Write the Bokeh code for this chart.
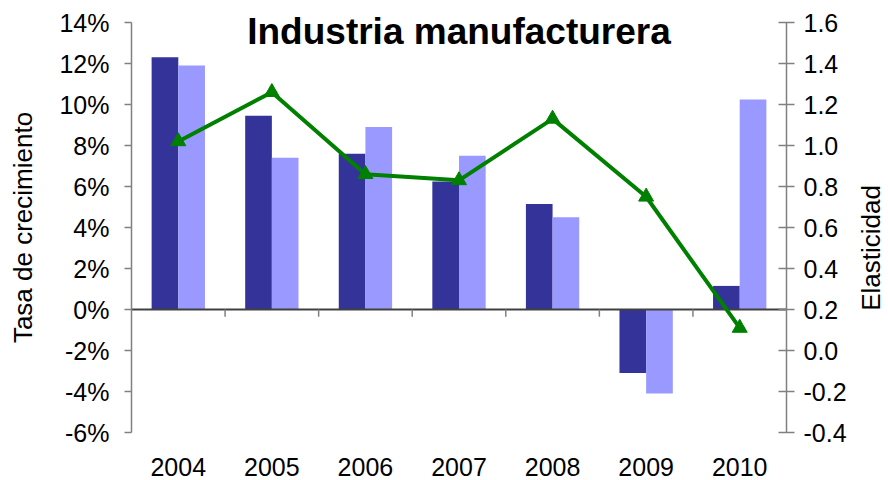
import math
from bokeh.plotting import figure
from bokeh.models import (Range1d, LinearAxis, FixedTicker, PrintfTickFormatter,
                          ColumnDataSource, Label)
from bokeh.embed import file_html
from bokeh.resources import INLINE

# ---- data ----
years = ["2004", "2005", "2006", "2007", "2008", "2009", "2010"]
growth_dark = [12.3, 9.45, 7.6, 6.25, 5.15, -3.1, 1.15]
growth_light = [11.9, 7.4, 8.9, 7.5, 4.5, -4.1, 10.25]
elasticity = [1.02, 1.26, 0.86, 0.83, 1.13, 0.75, 0.11]
left_ticks = [-6, -4, -2, 0, 2, 4, 6, 8, 10, 12, 14]
right_ticks = [-0.4, -0.2, 0.0, 0.2, 0.4, 0.6, 0.8, 1.0, 1.2, 1.4, 1.6]
title_text = "Industria manufacturera"
left_label = "Tasa de crecimiento"
right_label = "Elasticidad"

FONT = "Liberation Sans"
W, H = 888, 480
# plot-area box inside the figure (pixels)
PL, PR, PT, PB = 131, 786, 22, 432

n = len(years)
idx = list(range(n))
bw = 0.285

# ranges that put the plot area at the box above while the frame fills the figure
x0, x1 = -0.5, n - 0.5
xs = (PR - PL) / (x1 - x0)
ly0, ly1 = left_ticks[0], left_ticks[-1]
ls = (PB - PT) / (ly1 - ly0)
ry0, ry1 = right_ticks[0], right_ticks[-1]
rs = (PB - PT) / (ry1 - ry0)

src = ColumnDataSource(dict(
    x=idx,
    xa=[i - bw / 2 for i in idx],
    xb=[i + bw / 2 for i in idx],
    a=growth_dark,
    b=growth_light,
    e=elasticity,
))

p = figure(width=W, height=H,
           x_range=Range1d(x0 - PL / xs, x1 + (W - PR) / xs),
           y_range=Range1d(ly0 - (H - PB) / ls, ly1 + PT / ls),
           output_backend="svg", toolbar_location=None)
p.min_border = 0
p.outline_line_color = None
p.xgrid.visible = False
p.ygrid.visible = False
p.background_fill_color = "white"
p.border_fill_color = "white"
p.extra_y_ranges = {"elas": Range1d(ry0 - (H - PB) / rs, ry1 + PT / rs)}

# bars
p.vbar(x="xa", top="a", bottom=0, width=bw, source=src,
       fill_color="#333399", line_color=None)
p.vbar(x="xb", top="b", bottom=0, width=bw, source=src,
       fill_color="#9999FF", line_color=None)

# zero line and category separators
p.segment(x0=[x0], y0=[0], x1=[x1], y1=[0], line_color="#404040", line_width=2)
bounds = [i + 0.5 for i in range(n - 1)]
p.segment(x0=bounds, y0=[0] * len(bounds), x1=bounds, y1=[-0.35] * len(bounds),
          line_color="#808080", line_width=1.5)

# elasticity line
p.line(x="x", y="e", source=src, y_range_name="elas",
       line_color="#008000", line_width=4)
p.scatter(x="x", y="e", source=src, y_range_name="elas", marker="triangle",
          size=15, fill_color="#008000", line_color="#008000")

# bottom (category) axis
xax = p.xaxis[0]
xax.fixed_location = ly0
xax.bounds = (x0, x1)
xax.ticker = FixedTicker(ticks=idx)
xax.major_label_overrides = {i: y for i, y in zip(idx, years)}
xax.axis_line_color = None
xax.major_tick_line_color = None
xax.minor_tick_line_color = None
xax.major_tick_out = 0
xax.major_tick_in = 0
xax.major_label_standoff = 25
xax.major_label_text_font = FONT
xax.major_label_text_font_size = "25px"
xax.major_label_text_color = "black"

# left axis
ax = p.yaxis[0]
ax.fixed_location = x0
ax.bounds = (ly0, ly1)
ax.ticker = FixedTicker(ticks=left_ticks)
ax.formatter = PrintfTickFormatter(format="%d%%")
ax.major_tick_out = 7
ax.major_tick_in = 0
ax.minor_tick_line_color = None
ax.axis_line_color = "#808080"
ax.axis_line_width = 1.5
ax.major_tick_line_color = "#808080"
ax.major_tick_line_width = 1.5
ax.major_label_text_font = FONT
ax.major_label_text_font_size = "25px"
ax.major_label_text_color = "black"
ax.major_label_standoff = 15
ax.axis_label = left_label
ax.axis_label_text_font = FONT
ax.axis_label_text_font_size = "26px"
ax.axis_label_text_font_style = "normal"
ax.axis_label_text_color = "black"
ax.axis_label_standoff = 18

# right axis
rax = LinearAxis(y_range_name="elas", fixed_location=x1,
                 bounds=(ry0, ry1),
                 ticker=FixedTicker(ticks=right_ticks),
                 formatter=PrintfTickFormatter(format="%.1f"))
rax.major_tick_out = 8
rax.major_tick_in = 8
rax.minor_tick_line_color = None
rax.axis_line_color = "#808080"
rax.axis_line_width = 1.5
rax.major_tick_line_color = "#808080"
rax.major_tick_line_width = 1.5
rax.major_label_text_font = FONT
rax.major_label_text_font_size = "25px"
rax.major_label_text_color = "black"
rax.major_label_standoff = 9
p.add_layout(rax, "right")

# title
p.add_layout(Label(x=(n - 1) / 2, y=13.55, text=title_text,
                   text_align="center", text_baseline="alphabetic",
                   text_font=FONT, text_font_size="37px",
                   text_font_style="bold", text_color="black"))

# right axis title
p.add_layout(Label(x=x1 + 84 / xs, y=0.5, y_range_name="elas",
                   text=right_label, angle=math.pi / 2,
                   text_align="center", text_baseline="middle",
                   text_font=FONT, text_font_size="26px", text_color="black"))

open("out.html", "w").write(file_html(p, INLINE))
